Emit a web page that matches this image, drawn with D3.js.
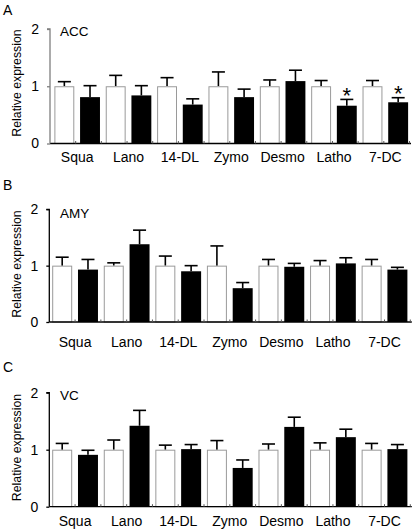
<!DOCTYPE html>
<html>
<head>
<meta charset="utf-8">
<script src="https://cdn.jsdelivr.net/npm/d3@7"></script>
<style>
  html, body { margin: 0; padding: 0; background: #fff; }
  svg { display: block; font-family: "Liberation Sans", Arial, sans-serif; }
</style>
</head>
<body>
<svg id="chart" width="415" height="531"></svg>
<script>
// ---------- data ----------
const categories = ["Squa", "Lano", "14-DL", "Zymo", "Desmo", "Latho", "7-DC"];
const yTicks = [0, 1, 2];

const accCtrl    = [1, 1, 1, 1, 1, 1, 1];
const accCtrlErr = [0.08, 0.19, 0.15, 0.25, 0.11, 0.10, 0.10];
const accTreat    = [0.81, 0.84, 0.68, 0.81, 1.09, 0.66, 0.72];
const accTreatErr = [0.20, 0.17, 0.10, 0.14, 0.19, 0.11, 0.08];
const accSig      = [false, false, false, false, false, true, true];

const amyCtrl    = [1, 1, 1, 1, 1, 1, 1];
const amyCtrlErr = [0.15, 0.05, 0.17, 0.35, 0.11, 0.09, 0.11];
const amyTreat    = [0.93, 1.38, 0.90, 0.60, 0.98, 1.04, 0.93];
const amyTreatErr = [0.18, 0.25, 0.10, 0.10, 0.06, 0.10, 0.04];
const amySig      = [false, false, false, false, false, false, false];

const vcCtrl    = [1, 1, 1, 1, 1, 1, 1];
const vcCtrlErr = [0.11, 0.17, 0.08, 0.16, 0.10, 0.12, 0.11];
const vcTreat    = [0.91, 1.42, 1.01, 0.68, 1.40, 1.22, 1.01];
const vcTreatErr = [0.08, 0.27, 0.08, 0.14, 0.17, 0.14, 0.08];
const vcSig      = [false, false, false, false, false, false, false];

const panelLetters = ["A", "B", "C"];
const regions = ["ACC", "AMY", "VC"];
const yTitle = "Relative expression";

// ---------- layout (not data) ----------
const layout = [
  { y2: 29,    y0: 143.5, x0: 50,   x1: 409.5, yAxisColor: "#7f7f7f", letterY: 15,    titleY: 36,    catY: 161.5, yTitleC: 83,    shift: 1.5 },
  { y2: 209.3, y0: 322,   x0: 49.3, x1: 410.3, yAxisColor: "#000",    letterY: 190,   titleY: 217.7, catY: 346.5, yTitleC: 264,   shift: 0 },
  { y2: 392.7, y0: 506.7, x0: 49.3, x1: 410.3, yAxisColor: "#000",    letterY: 371.7, titleY: 400,   catY: 525.7, yTitleC: 447.5, shift: 0 }
];

const datasets = [
  { ctrl: accCtrl, ctrlErr: accCtrlErr, treat: accTreat, treatErr: accTreatErr, sig: accSig },
  { ctrl: amyCtrl, ctrlErr: amyCtrlErr, treat: amyTreat, treatErr: amyTreatErr, sig: amySig },
  { ctrl: vcCtrl,  ctrlErr: vcCtrlErr,  treat: vcTreat,  treatErr: vcTreatErr,  sig: vcSig }
];

const svg = d3.select("#chart");
const series = ["ctrl", "treat"];

datasets.forEach((ds, pi) => {
  const L = layout[pi];
  const g = svg.append("g");

  const y = d3.scaleLinear().domain([0, 2]).range([L.y0, L.y2]);
  const x = d3.scaleBand().domain(categories).range([L.x0, L.x1]).paddingInner(0).paddingOuter(0);
  const xs = d3.scaleBand().domain(series).range([0, x.bandwidth()]).paddingInner(0.225).paddingOuter(0.1125);

  const rows = categories.map((c, i) => ({
    cat: c,
    ctrl: ds.ctrl[i], ctrlErr: ds.ctrlErr[i],
    treat: ds.treat[i], treatErr: ds.treatErr[i],
    sig: ds.sig[i]
  }));

  // bars
  rows.forEach(r => {
    series.forEach(s => {
      const bx = x(r.cat) + xs(s) + L.shift;
      const v = r[s], e = r[s + "Err"];
      const cx = bx + xs.bandwidth() / 2;
      // error bar (upward only)
      g.append("line")
        .attr("x1", cx).attr("x2", cx)
        .attr("y1", y(v)).attr("y2", y(v + e))
        .attr("stroke", "#000").attr("stroke-width", 1.6);
      g.append("line")
        .attr("x1", cx - 6.5).attr("x2", cx + 6.5)
        .attr("y1", y(v + e)).attr("y2", y(v + e))
        .attr("stroke", "#000").attr("stroke-width", 1.6);
      g.append("rect")
        .attr("x", s === "ctrl" ? bx + 0.5 : bx)
        .attr("y", y(v) + (s === "ctrl" ? 0.5 : 0))
        .attr("width", s === "ctrl" ? xs.bandwidth() - 1 : xs.bandwidth())
        .attr("height", y(0) - y(v) - (s === "ctrl" ? 0.5 : 0))
        .attr("fill", s === "ctrl" ? "#fff" : "#000")
        .attr("stroke", s === "ctrl" ? "#9a9a9a" : "none")
        .attr("stroke-width", 1);
      if (s === "treat" && r.sig) {
        g.append("text")
          .attr("x", cx).attr("y", y(v + e) + 3.5)
          .attr("text-anchor", "middle")
          .attr("font-size", 22)
          .attr("fill", "#000")
          .text("*");
      }
    });
  });

  // x axis (ticks at every bar slot boundary, pointing up)
  const slotTicks = [];
  categories.forEach(c => { slotTicks.push(x(c) + x.bandwidth() / 2); slotTicks.push(x(c) + x.bandwidth()); });
  g.append("line")
    .attr("x1", L.x0).attr("x2", L.x1 + 1.5)
    .attr("y1", L.y0).attr("y2", L.y0)
    .attr("stroke", "#000").attr("stroke-width", 1.3);
  g.selectAll(".xt").data(slotTicks).enter().append("line")
    .attr("x1", d => d).attr("x2", d => d)
    .attr("y1", L.y0).attr("y2", L.y0 - 2.5)
    .attr("stroke", "#555").attr("stroke-width", 1);

  // category labels
  g.selectAll(".cl").data(categories).enter().append("text")
    .attr("x", c => x(c) + x.bandwidth() / 2 + L.shift)
    .attr("y", L.catY)
    .attr("text-anchor", "middle")
    .attr("font-size", 14)
    .attr("fill", "#000")
    .text(c => c);

  // y axis
  const yAxis = d3.axisLeft(y).tickValues(yTicks).tickSize(3).tickPadding(8).tickFormat(d3.format("d"));
  const ya = g.append("g").attr("transform", `translate(${L.x0},0)`).call(yAxis);
  ya.select(".domain").attr("stroke", L.yAxisColor).attr("stroke-width", 1.3).attr("d", `M-3,${L.y2}H0V${L.y0}`);
  ya.selectAll(".tick line").attr("stroke", L.yAxisColor).attr("stroke-width", 1.3);
  ya.selectAll(".tick text").attr("font-size", 14).attr("fill", "#000")
    .attr("font-family", "'Liberation Sans', Arial, sans-serif");

  // y title
  g.append("text")
    .attr("transform", `translate(21,${L.yTitleC}) rotate(-90)`)
    .attr("text-anchor", "middle")
    .attr("font-size", 12.3)
    .attr("fill", "#000")
    .text(yTitle);

  // panel letter
  g.append("text").attr("x", 3).attr("y", L.letterY)
    .attr("font-size", 14).attr("fill", "#000").text(panelLetters[pi]);

  // region title
  g.append("text").attr("x", 60).attr("y", L.titleY)
    .attr("font-size", 13.5).attr("fill", "#000").text(regions[pi]);
});
</script>
</body>
</html>
